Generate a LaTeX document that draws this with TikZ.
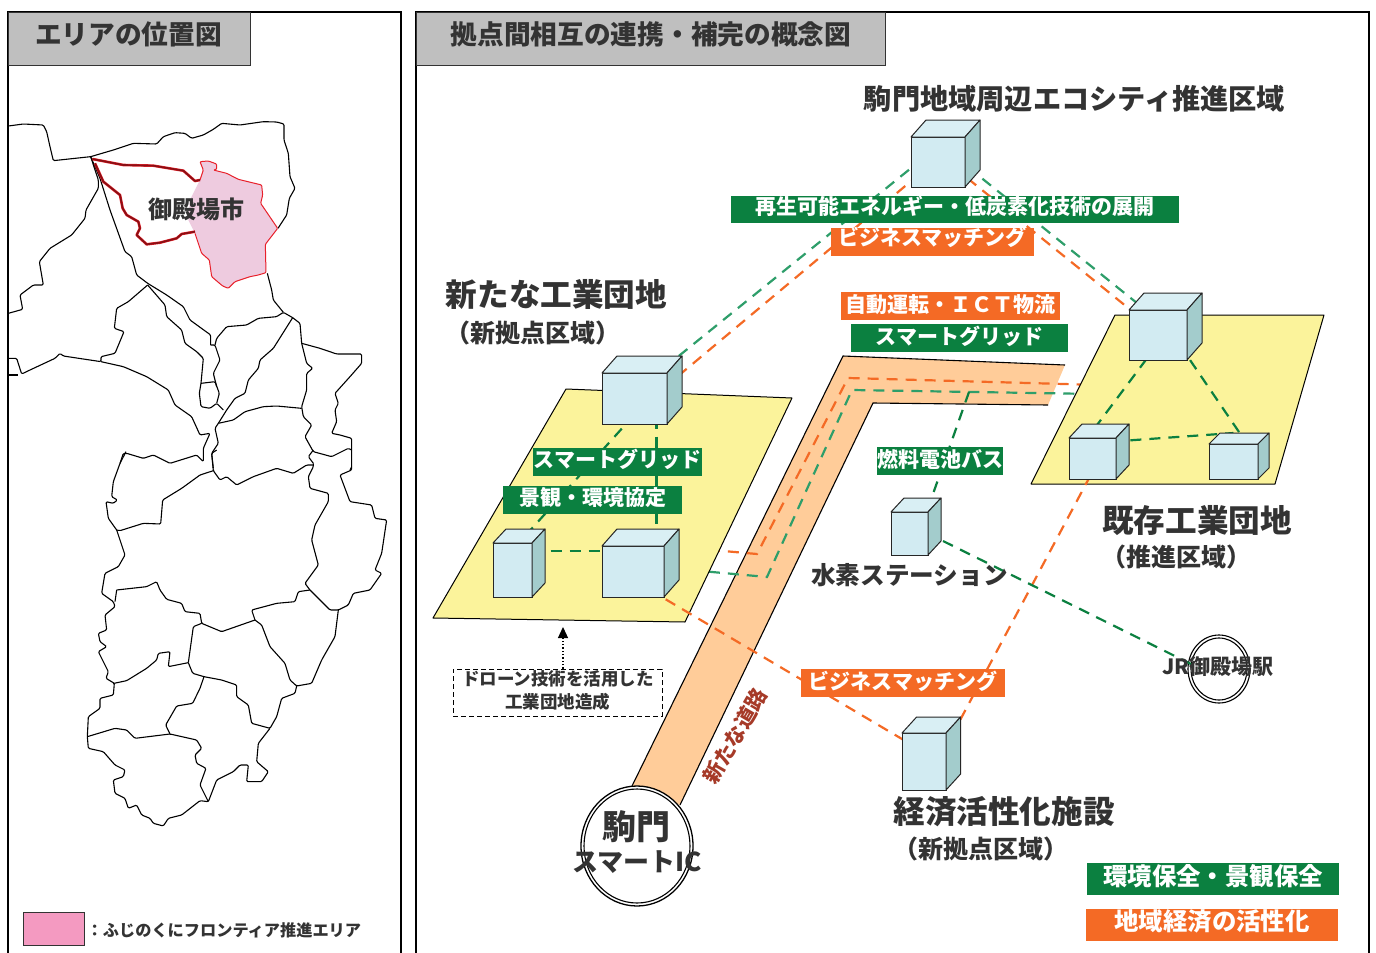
\documentclass[tikz,border=0pt]{standalone}
\usepackage{fontspec}
\setmainfont{Noto Sans CJK JP}
\usetikzlibrary{arrows.meta,shapes.geometric}
\definecolor{txt}{HTML}{333333}
\definecolor{tabgray}{HTML}{BFBFBF}
\definecolor{gr}{HTML}{0B8040}
\definecolor{grl}{HTML}{2E9E6A}
\definecolor{og}{HTML}{F46A25}
\definecolor{roadc}{HTML}{FFCC99}
\definecolor{yel}{HTML}{FBF39B}
\definecolor{cfront}{HTML}{D2EBF2}
\definecolor{ctop}{HTML}{D9EFF4}
\definecolor{cside}{HTML}{A3CCCC}
\definecolor{pinka}{HTML}{EECBDF}
\definecolor{pinkb}{HTML}{F49AC1}
\definecolor{rdark}{HTML}{8A0F14}
\definecolor{rbright}{HTML}{E8202A}
\definecolor{roadtxt}{HTML}{A63A28}
\newcommand\fz[1]{\fontsize{#1}{#1}\selectfont}
\newcommand\barup[2]{\raisebox{#1pt}[0pt][0pt]{#2}}
\tikzset{
 panel/.style={draw=black,line width=1.8pt,fill=white},
 tabbox/.style={draw=txt,line width=1.2pt,fill=tabgray},
 mapl/.style={line width=1.1pt,black,rounded corners=1.2pt,line join=round},
 cubefront/.style={draw=black!85,line width=1pt,fill=cfront,inner sep=0,outer sep=0},
 cubeedge/.style={draw=black!85,line width=1pt,line join=round},
 gline/.style={draw=gr,line width=2.2pt,dash pattern=on 11pt off 8pt},
 glight/.style={draw=grl,line width=2.2pt,dash pattern=on 11pt off 8pt},
 oline/.style={draw=og,line width=2.2pt,dash pattern=on 11pt off 8pt},
 bar/.style={inner sep=0,outer sep=0,text=white,font=\bfseries\fz{21}},
 gbar/.style={bar,fill=gr},
 obar/.style={bar,fill=og},
 ttl/.style={inner sep=0,text=txt,font=\bfseries\fz{#1}},
 ring/.style={draw=black,line width=1.1pt},
}
\newcommand\cubeshape[7]{%
 \node[cubefront,minimum width=#4pt,minimum height=#5pt] (#1) at (#2,#3) {};
 \draw[cubeedge,fill=ctop] (#1.north west) -- ++(#6,-#7) -- ++(#4,0) -- (#1.north east) -- cycle;
 \draw[cubeedge,fill=cside] (#1.north east) -- ++(#6,-#7) -- ++(0,#5) -- (#1.south east) -- cycle;
}
\begin{document}
\begin{tikzpicture}[x=1pt,y=-1pt]
\useasboundingbox (0,0) rectangle (1376,953);
\fill[white] (0,0) rectangle (1376,953);
% panels
\draw[panel] (8,960) -- (8,12) -- (401,12) -- (401,960);
\draw[panel] (416,960) -- (416,12) -- (1369,12) -- (1369,960);
\node[tabbox,minimum width=242pt,minimum height=53pt,inner sep=0,anchor=north west] (tabl) at (8,12) {};
\node[tabbox,minimum width=469pt,minimum height=53pt,inner sep=0,anchor=north west] (tabr) at (416,12) {};
\node[ttl=26.7] (tl) at (128.5,34) {エリアの位置図};
\node[ttl=26.7] (tr) at (651,34) {拠点間相互の連携・補完の概念図};
% map, upper part
\begin{scope}[shift={(0pt,-100pt)},x=.33333pt,y=-.33333pt]
\fill[pinka] (600,185)--(625,183)--(650,192)--(650,208)--(640,210)--(680,220)--(715,238)--(785,255)--(788,285)--(782,310)--(833,385)--(796,433)--(798,518)--(775,525)--(750,530)--(705,545)--(685,565)--(668,558)--(635,530)--(628,480)--(605,460)--(585,400)--(565,360)--(570,300)--(600,240)--(610,210)--cycle;
\draw[mapl] (25,78)--(70,72)--(130,75)--(140,95)--(150,140)--(160,182)--(272,170)--(340,150)--(400,130)--(470,132)--(490,110)--(525,98)--(555,100)--(575,115)--(610,105)--(640,88)--(665,70)--(720,75)--(790,65)--(830,66)--(852,72)--(852,120)--(865,160)--(870,230)--(885,265)--(868,295)--(860,345)--(834,385);
\draw[mapl] (272,170)--(295,240)--(295,265)--(258,330)--(255,355)--(215,405)--(150,445)--(118,485)--(130,555)--(100,555)--(60,585)--(68,628)--(25,640);
\draw[mapl] (272,170)--(300,235)--(330,330)--(375,455)--(395,470)--(410,525)--(443,550)--(500,585)--(550,620)--(570,660)--(632,705)--(632,735);
\draw[mapl] (443,555)--(385,605)--(350,625)--(343,685)--(372,695)--(345,760)--(303,770)--(303,785)--(190,768)--(180,760)--(165,775)--(90,810)--(65,822)--(50,775)--(25,775);
\draw[mapl] (25,825)--(55,825);
\draw[mapl] (303,785)--(370,800)--(440,830)--(505,870)--(525,915)--(575,950)--(600,1005)--(630,1000)--(610,1045)--(610,1085)--(590,1065)--(510,1090)--(460,1065)--(430,1075)--(380,1060)--(370,1060)--(360,1090);
\draw[mapl] (443,555)--(495,615)--(500,650)--(545,690)--(555,730)--(590,755)--(610,775)--(603,850)--(598,880)--(603,920)--(630,925)--(650,910)--(670,930);
\draw[mapl] (603,850)--(645,845)--(658,880)--(650,910);
\draw[mapl] (632,735)--(645,735)--(660,780)--(640,820)--(650,860);
\draw[mapl] (645,735)--(650,715)--(680,680)--(740,675)--(775,655)--(830,650)--(850,637)--(878,653);
\draw[mapl] (802,520)--(815,570)--(820,600)--(850,637);
\draw[mapl] (878,653)--(820,745)--(780,780)--(775,805)--(745,840)--(735,880)--(705,895)--(680,930)--(655,970);
\draw[mapl] (878,653)--(900,670)--(905,730)--(920,790)--(938,805)--(920,820)--(920,870)--(905,920)--(910,950)--(935,975)--(915,1010)--(940,1055)--(995,1070)--(1045,1045)--(1055,1050);
\draw[mapl] (905,730)--(960,745)--(1010,762)--(1085,762)--(1085,790)--(1050,830)--(1005,880)--(1015,910)--(1005,930)--(1010,965)--(995,1000)--(1020,1005)--(1055,1015)--(1055,1050);
\draw[mapl] (655,970)--(700,960)--(735,935)--(790,920)--(830,918)--(905,925);
\draw[mapl] (655,970)--(645,985)--(655,1030)--(635,1060)--(640,1105);
% pink outline and red borders
\draw[rbright,line width=1pt,line join=round,rounded corners=1pt] (600,240)--(610,210)--(600,185)--(625,183)--(650,192)--(650,208)--(640,210)--(680,220)--(715,238)--(785,255)--(788,285)--(782,310)--(833,385)--(796,433)--(798,518)--(775,525)--(750,530)--(705,545)--(685,565)--(668,558)--(635,530)--(628,480)--(605,460)--(585,400);
\draw[rbright,line width=2.6pt,line join=round] (277,177)--(370,195)--(460,197)--(550,212)--(585,243)--(600,240);
\draw[rbright,line width=2.6pt,line join=round] (285,190)--(310,245)--(360,285)--(368,325)--(380,345)--(415,365)--(420,385)--(410,405)--(440,433)--(480,428)--(530,415)--(545,402)--(585,395);
\draw[rdark,line width=1.7pt,line join=round] (277,177)--(370,195)--(460,197)--(550,212)--(585,243)--(600,240);
\draw[rdark,line width=1.7pt,line join=round] (285,190)--(310,245)--(360,285)--(368,325)--(380,345)--(415,365)--(420,385)--(410,405)--(440,433)--(480,428)--(530,415)--(545,402)--(585,395);
\end{scope}
% map, lower part
\begin{scope}[shift={(0pt,-450pt)},x=.33333pt,y=-.33333pt]
\draw[mapl] (378,5)--(360,40)--(340,95)--(335,140)--(352,150)--(340,160)--(318,155)--(325,205)--(350,240);
\draw[mapl] (640,62)--(600,75)--(545,115)--(488,150)--(482,222)--(430,220)--(360,242)--(350,240);
\draw[mapl] (350,240)--(375,315)--(355,350)--(315,370)--(305,430)--(340,455)--(345,470)--(315,495)--(320,540)--(295,550)--(300,575)--(320,590)--(295,605)--(325,665)--(318,685)--(343,700)--(340,735)--(300,745)--(300,775)--(265,800)--(262,860)--(265,895)--(310,905)--(345,945)--(375,960)--(370,980)--(340,990)--(345,1030)--(375,1045)--(385,1075)--(410,1065)--(425,1095)--(450,1105)--(460,1120)--(490,1128)--(505,1105)--(545,1095)--(600,1052)--(625,1055)--(650,990)--(700,965)--(720,945)--(745,945)--(740,995)--(785,995)--(805,965)--(770,935)--(775,880)--(810,835);
\draw[mapl] (262,860)--(345,835)--(380,840)--(405,865)--(510,852)--(590,870)--(605,895)--(585,915)--(590,940)--(618,955)--(600,1005)--(625,1055);
\draw[mapl] (510,852)--(497,825)--(530,768)--(578,760)--(600,715)--(612,680);
\draw[mapl] (342,700)--(380,692)--(440,655)--(470,630)--(475,610)--(510,605)--(505,650)--(565,638);
\draw[mapl] (565,638)--(578,670)--(612,680)--(665,690)--(710,705)--(710,740)--(745,765)--(755,820)--(810,835)--(830,800)--(845,745)--(885,730)--(890,708);
\draw[mapl] (565,638)--(580,530)--(605,520);
\draw[mapl] (350,420)--(440,410)--(470,395)--(480,420)--(500,448)--(545,460)--(555,485)--(600,490)--(605,520)--(665,545)--(765,510);
\draw[mapl] (350,420)--(345,455);
\draw[mapl] (765,510)--(755,480)--(830,460)--(885,455)--(895,425)--(930,420);
\draw[mapl] (765,510)--(785,525)--(810,590)--(855,640)--(870,690)--(890,708)--(935,700)--(965,630)--(1005,560)--(1015,480);
\draw[mapl] (930,420)--(990,480)--(1015,480)--(1045,465)--(1060,430)--(1110,420)--(1145,370)--(1125,360)--(1145,310)--(1160,210)--(1125,205)--(1115,165)--(1050,155)--(1020,75)--(1055,60)--(1055,0);
\draw[mapl] (930,420)--(915,400)--(955,345)--(935,270)--(945,225)--(965,190)--(985,155)--(985,130)--(930,115)--(925,80)--(940,50)--(940,40);
\draw[mapl] (650,0)--(635,10)--(640,62)--(660,90)--(680,80)--(710,105)--(760,80)--(830,55)--(880,70)--(920,45)--(940,45);
\draw[mapl] (940,0)--(925,20)--(940,40);
\draw[mapl] (1055,50)--(1050,60);
\end{scope}
\node[ttl=24] (gotemba) at (196,209) {御殿場市};
\node[draw=txt,line width=1pt,fill=pinkb,minimum width=61pt,minimum height=33pt,inner sep=0] (legp) at (53.5,928.5) {};
\node[ttl=16.2,anchor=west] (legt) at (86.5,930) {：ふじのくにフロンティア推進エリア};
% road
\fill[roadc] (632,786)--(843,356)--(1065,365)--(1048,405)--(873,403)--(680,805)--cycle;
\draw[black,line width=1.1pt] (632,786)--(843,356)--(1065,365);
\draw[black,line width=1.1pt] (1048,405)--(873,403)--(680,805);
\node[inner sep=0] (c5anch) at (633,571.5) {};
\coordinate (roador) at (1100,385);
\coordinate (roadgr) at (1095,394);
\coordinate (roadbr) at (969,392);
\node[inner sep=0] (c3anch) at (634.5,398.5) {};
\node[inner sep=0] (c1anch) at (938,162) {};
\node[inner sep=0] (c2anch) at (1158,335) {};
% lines under the yellow plates
\draw[oline] ([shift={(57,-23.5)}]c5anch.center) -- (757,554) -- (848,378) -- (roador);
\draw[glight] ([shift={(57,-1.5)}]c5anch.center) -- (767,577) -- (852,390) -- (roadgr);
\draw[glight] ([shift={(0,-6.7)}]c3anch.center) -- ([shift={(0,-15.7)}]c1anch.center);
\draw[oline] ([shift={(0,14)}]c3anch.center) -- ([shift={(0,-3.4)}]c1anch.center);
\draw[glight] ([shift={(0,-19)}]c1anch.center) -- ([shift={(0,-15)}]c2anch.center);
\draw[oline] ([shift={(0,-7.5)}]c1anch.center) -- ([shift={(0,-3)}]c2anch.center);
% yellow plates
\fill[yel,draw=black,line width=1pt,line join=round] (566,389)--(792,398)--(685,622)--(433,618)--cycle;
\fill[yel,draw=black,line width=1pt,line join=round] (1115,315)--(1324,315)--(1275,484)--(1031,484)--cycle;
% other connector anchors
\node[inner sep=0] (c4anch) at (512.5,570) {};
\node[inner sep=0] (c6anch) at (909.5,533.5) {};
\node[inner sep=0] (c7anch) at (1092.5,458.5) {};
\node[inner sep=0] (c8anch) at (1233.5,461.5) {};
\node[inner sep=0] (c9anch) at (924,761.5) {};
\draw[gline] ([shift={(0,16)}]c3anch.center) -- ([shift={(0,-20)}]c4anch.center);
\draw[gline] ([shift={(22,0)}]c3anch.center) -- ([shift={(23.5,0)}]c5anch.center);
\draw[gline] ([shift={(0,-19)}]c4anch.center) -- ([shift={(0,-20.5)}]c5anch.center);
\draw[gline] ([shift={(0,-22)}]c2anch.center) -- ([shift={(5.5,-29.5)}]c8anch.center);
\draw[gline] ([shift={(0,8.7)}]c2anch.center) -- ([shift={(0,-27.5)}]c7anch.center);
\draw[gline] ([shift={(0,-15.5)}]c7anch.center) -- ([shift={(0,-28.5)}]c8anch.center);
\draw[gline] (roadbr) -- ([shift={(9.5,0)}]c6anch.center);
\draw[oline] ([shift={(0,8.5)}]c5anch.center) -- ([shift={(0,-9.5)}]c9anch.center);
\draw[oline] ([shift={(7,0)}]c7anch.center) -- ([shift={(14,0)}]c9anch.center);
% cubes
\cubeshape{c1}{938}{162}{54}{50}{15}{17}
\cubeshape{c2}{1158}{335}{58}{50}{15}{17}
\cubeshape{c3}{634.5}{398.5}{65}{51}{15}{17}
\cubeshape{c4}{512.5}{570}{39}{54}{13}{14}
\cubeshape{c5}{633}{571.5}{62}{51}{15}{17}
\cubeshape{c6}{909.5}{533.5}{37}{43}{13}{14}
\cubeshape{c7}{1092.5}{458.5}{47}{41}{13}{14}
\cubeshape{c8}{1233.5}{461.5}{49}{35}{11}{11}
\cubeshape{c9}{924}{761.5}{44}{57}{14.6}{16}
% JR rings
\node[ring,ellipse,minimum width=62pt,minimum height=68pt,inner sep=0] (jr) at (1219,669) {};
\node[ring,ellipse,minimum width=56pt,minimum height=62pt,inner sep=0] (jrin) at (1219,669) {};
\draw[gline] ([shift={(33.5,7.5)}]c6anch.center) -- ([shift={(-18,0)}]jr.center);
% bars
\node[gbar,minimum width=448pt,minimum height=27pt] (b1) at (955,209.5) {\barup{-4.5}{再生可能エネルギー・低炭素化技術の展開}};
\node[obar,minimum width=203pt,minimum height=28pt] (b2) at (932.5,242) {\barup{-3}{ビジネスマッチング}};
\node[obar,minimum width=219pt,minimum height=28pt] (b3) at (950.5,306) {\barup{-6}{自動運転・ＩＣＴ物流}};
\node[gbar,minimum width=217pt,minimum height=28pt] (b4) at (959.5,338) {\barup{-6}{スマートグリッド}};
\node[gbar,minimum width=169pt,minimum height=28pt] (b5) at (617.5,462) {\barup{-5}{スマートグリッド}};
\node[gbar,minimum width=179pt,minimum height=28pt] (b6) at (592.5,500) {\barup{-5}{景観・環境協定}};
\node[gbar,minimum width=126pt,minimum height=28pt] (b7) at (940,461) {\barup{-6}{燃料電池バス}};
\node[obar,minimum width=204pt,minimum height=28pt] (b8) at (903,683) {\barup{-6}{ビジネスマッチング}};
\node[gbar,minimum width=252pt,minimum height=32pt,font=\bfseries\fz{24.4}] (b9) at (1213,879) {\barup{-6.3}{環境保全・景観保全}};
\node[obar,minimum width=252pt,minimum height=32pt,font=\bfseries\fz{24.4}] (b10) at (1212,925) {\barup{-5.3}{地域経済の活性化}};
% texts
\node[ttl=28.2] (t1) at (1074.5,99) {駒門地域周辺エコシティ推進区域};
\node[ttl=31.6] (t2) at (556.5,294) {新たな工業団地};
\node[ttl=25] (t3) at (532.5,333) {（新拠点区域）};
\node[ttl=31.6] (t4) at (1197,521) {既存工業団地};
\node[ttl=25] (t5) at (1176.5,557) {（推進区域）};
\node[ttl=24.6] (t6) at (909.5,575) {水素ステーション};
\node[ttl=31.6] (t7) at (1004,812) {経済活性化施設};
\node[ttl=25] (t8) at (980.5,848.5) {（新拠点区域）};
\node[ttl=21] (t9) at (1218,667) {JR御殿場駅};
% drone box
\node[draw=black,line width=.9pt,dash pattern=on 5pt off 3pt,minimum width=209pt,minimum height=47pt,inner sep=0] (dronebox) at (557.5,692.5) {};
\node[ttl=17.5] (d1) at (558,678.5) {ドローン技術を活用した};
\node[ttl=17.5] (d2) at (557.5,702) {工業団地造成};
\coordinate (droneup) at (563,627);
\draw[black,line width=1.3pt,dotted,-{Triangle[length=11pt,width=10pt]}] (dronebox.north -| droneup) -- (droneup);
% IC circle
\node[draw=black,line width=1.3pt,fill=white,ellipse,minimum width=112pt,minimum height=120pt,inner sep=0] (ic) at (637,846) {};
\node[ring,ellipse,minimum width=106pt,minimum height=114pt,inner sep=0] (icin) at (637,846) {};
\node[ttl=34] (ic1) at (636,827) {駒門};
\node[ttl=26] (ic2) at (637,862) {スマートIC};
\node[inner sep=0,rotate=60,text=roadtxt,font=\bfseries\fz{21}] (roadname) at (735,736) {新たな道路};
\end{tikzpicture}
\end{document}
